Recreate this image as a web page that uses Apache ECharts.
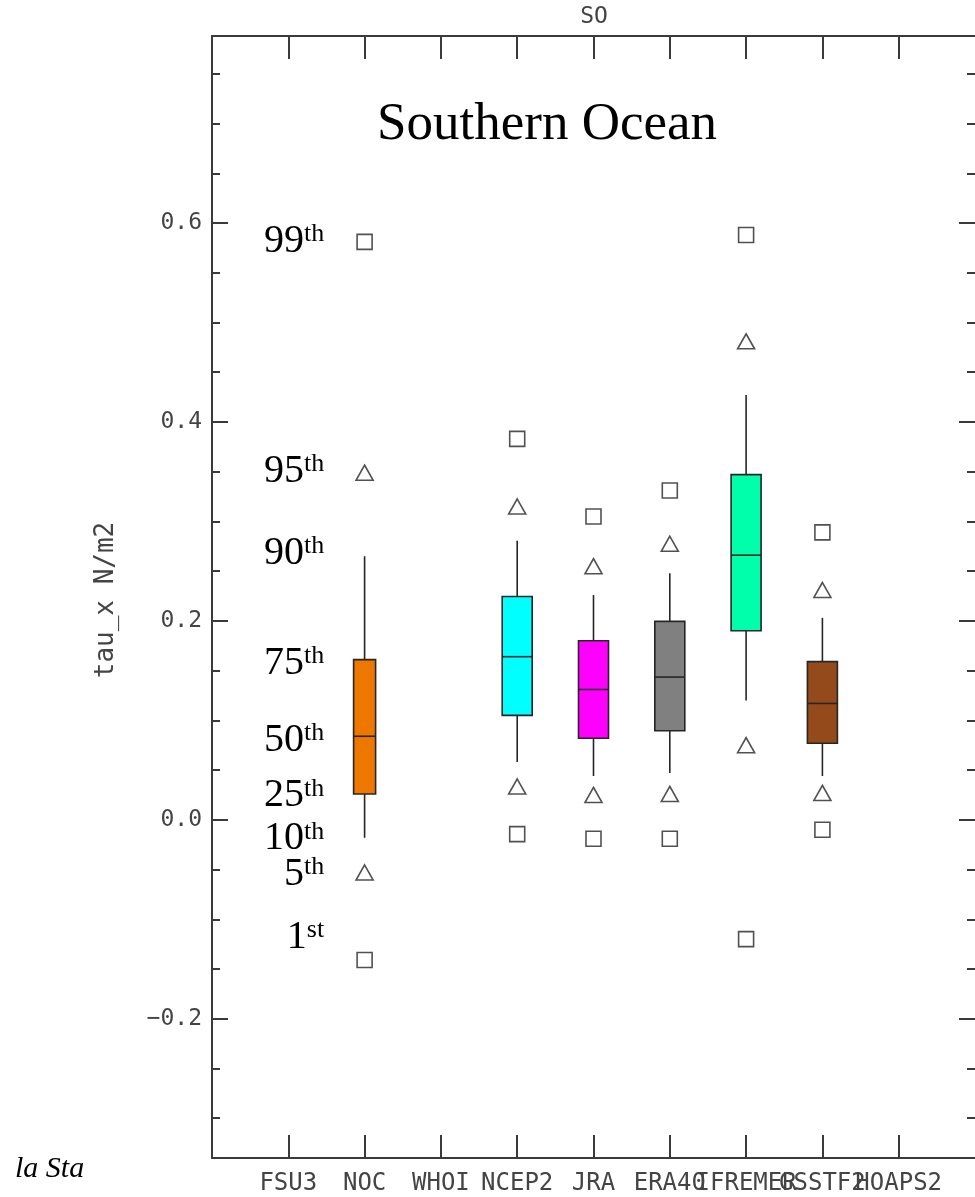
<!DOCTYPE html>
<html>
<head>
<meta charset="utf-8">
<script src="https://cdn.jsdelivr.net/npm/echarts@6/dist/echarts.min.js"></script>
<style>
html,body{margin:0;padding:0;background:#fff;}
#chart{width:975px;height:1197px;}
</style>
</head>
<body>
<div id="chart"></div>
<script>
// ---------- data ----------
const categories = ['FSU3','NOC','WHOI','NCEP2','JRA','ERA40','IFREMER','GSSTF2','HOAPS2'];
const p1  = [null, -0.141, null, -0.0144, -0.019, -0.019, -0.120, -0.010, null];
const p5  = [null, -0.053, null,  0.0335,  0.025,  0.026,  0.075,  0.027, null];
const p10 = [null, -0.018, null,  0.058,   0.044,  0.047,  0.120,  0.044, null];
const p25 = [null,  0.026, null,  0.105,   0.082,  0.0895, 0.190,  0.077, null];
const p50 = [null,  0.084, null,  0.164,   0.131,  0.1435, 0.266,  0.117, null];
const p75 = [null,  0.161, null,  0.2245,  0.180,  0.1995, 0.347,  0.159, null];
const p90 = [null,  0.265, null,  0.2805,  0.226,  0.248,  0.427,  0.203, null];
const p95 = [null,  0.349, null,  0.315,   0.255,  0.2775, 0.481,  0.231, null];
const p99 = [null,  0.581, null,  0.383,   0.305,  0.331,  0.588,  0.289, null];

const pctLabels = ['99','95','90','75','50','25','10','5','1'];
const pctSuffix = ['th','th','th','th','th','th','th','th','st'];
const pctLabelY = [0.5817, 0.350, 0.268, 0.157, 0.080, 0.024, -0.019, -0.055, -0.118];
const pctLabelX = 1.47;

const yMajorTicks = [-0.2, 0.0, 0.2, 0.4, 0.6];
const yMinorTicks = [-0.3,-0.25,-0.15,-0.1,-0.05,0.05,0.1,0.15,0.25,0.3,0.35,0.45,0.5,0.55,0.65,0.7,0.75];
const xTicks = [1,2,3,4,5,6,7,8,9];
const xLabelsOdd = [1,3,5,7,9];
const xLabelsEven = [2,4,6,8];
const yMin = -0.34, yMax = 0.788;
const xMin = 0, xMax = 10;

// ---------- styles ----------
const boxColors = {NOC:'#EE7700', NCEP2:'#00FFFF', JRA:'#FF00FF', ERA40:'#808080', IFREMER:'#00FFAA', GSSTF2:'#944A1A'};
const boxWidths = {NOC:22};
const defaultBoxWidth = 30;
const lineCol = '#262626';
const axisCol = '#3a3a3a';
const tickFont = 'DejaVu Sans Mono';

const chart = echarts.init(document.getElementById('chart'), null, {renderer:'canvas'});

function idxData(arr){
  return categories.map((c,i)=> arr[i]==null ? null : [i+1, arr[i]]).filter(Boolean);
}
const boxData = categories.map((c,i)=> p50[i]==null ? null : [i+1, p10[i], p25[i], p50[i], p75[i], p90[i]]).filter(Boolean);

function renderBox(params, api){
  const xi = api.value(0);
  const name = categories[xi-1];
  const x = api.coord([xi, 0])[0];
  const y10 = api.coord([xi, api.value(1)])[1];
  const y25 = api.coord([xi, api.value(2)])[1];
  const y50 = api.coord([xi, api.value(3)])[1];
  const y75 = api.coord([xi, api.value(4)])[1];
  const y90 = api.coord([xi, api.value(5)])[1];
  const w = boxWidths[name] || defaultBoxWidth;
  return {
    type:'group',
    children:[
      {type:'line', shape:{x1:x, y1:y90, x2:x, y2:y10}, style:{stroke:lineCol, lineWidth:1.6}},
      {type:'rect', shape:{x:x-w/2, y:y75, width:w, height:y25-y75}, style:{fill:boxColors[name], stroke:lineCol, lineWidth:1.6}},
      {type:'line', shape:{x1:x-w/2, y1:y50, x2:x+w/2, y2:y50}, style:{stroke:lineCol, lineWidth:1.6}}
    ]
  };
}

function renderPct(params, api){
  const p = api.coord([api.value(0), api.value(1)]);
  const i = params.dataIndex;
  return {
    type:'text', x:p[0], y:p[1],
    style:{
      text:'{d|' + pctLabels[i] + '}{s|' + pctSuffix[i] + '}',
      align:'right', verticalAlign:'middle', fill:'#000',
      rich:{
        d:{fontFamily:'Liberation Serif', fontSize:40, lineHeight:40, fill:'#000'},
        s:{fontFamily:'Liberation Serif', fontSize:26, lineHeight:26, fill:'#000', verticalAlign:'top'}
      }
    }
  };
}

const markerStyle = {color:'#fff', borderColor:lineCol, borderWidth:1.6};

function yAxisCfg(pos, ticks, len, showLine, showLabel){
  return {
    type:'value', min:yMin, max:yMax, position:pos,
    splitLine:{show:false},
    axisLine:{show:showLine, onZero:false, lineStyle:{color:axisCol, width:2}},
    axisTick:{show:true, inside:true, length:len, customValues:ticks, lineStyle:{color:axisCol, width:2}},
    axisLabel:{show:showLabel, customValues:ticks, margin:10, hideOverlap:false, fontFamily:tickFont, fontSize:23, color:'#444',
      formatter:v => (Math.abs(v)<1e-9 ? '0.0' : (v<0?'\u2212':'') + Math.abs(v).toFixed(1))}
  };
}

function xLabelAxis(vals){
  return {type:'value', min:xMin, max:xMax, position:'bottom', splitLine:{show:false},
    axisLine:{show:false, onZero:false}, axisTick:{show:false},
    axisLabel:{customValues:vals, margin:14, hideOverlap:false, fontFamily:tickFont, fontSize:24, color:'#444',
      formatter:v => categories[Math.round(v)-1] || ''}};
}

const option = {
  animation:false,
  backgroundColor:'#fff',
  grid:{left:212, top:36, width:766, height:1122, containLabel:false},
  xAxis:[
    {type:'value', min:xMin, max:xMax, position:'bottom', splitLine:{show:false},
      axisLine:{onZero:false, lineStyle:{color:axisCol, width:2}},
      axisTick:{inside:true, length:23, customValues:xTicks, lineStyle:{color:axisCol, width:2}},
      axisLabel:{show:false}},
    {type:'value', min:xMin, max:xMax, position:'top', splitLine:{show:false},
      axisLine:{onZero:false, lineStyle:{color:axisCol, width:2}},
      axisTick:{inside:true, length:23, customValues:xTicks, lineStyle:{color:axisCol, width:2}},
      axisLabel:{show:false}},
    xLabelAxis(xLabelsOdd),
    xLabelAxis(xLabelsEven)
  ],
  yAxis:[
    yAxisCfg('left', yMajorTicks, 16, true, true),
    yAxisCfg('left', yMinorTicks, 8, false, false),
    yAxisCfg('right', yMajorTicks, 16, false, false),
    yAxisCfg('right', yMinorTicks, 8, false, false)
  ],
  graphic:[
    {type:'text', x:594, y:17, style:{text:'SO', fontFamily:tickFont, fontSize:23, fill:'#444', textAlign:'center', textVerticalAlign:'middle'}},
    {type:'text', x:547, y:125, style:{text:'Southern Ocean', fontFamily:'Liberation Serif', fontSize:53, fill:'#000', textAlign:'center', textVerticalAlign:'middle'}},
    {type:'text', x:106, y:600, rotation:Math.PI/2, style:{text:'tau_x N/m2', fontFamily:tickFont, fontSize:26, fill:'#444', textAlign:'center', textVerticalAlign:'middle'}},
    {type:'text', x:15, y:1169, style:{text:'la Sta', fontFamily:'Liberation Serif', fontStyle:'italic', fontSize:30, fill:'#000', textAlign:'left', textVerticalAlign:'middle'}}
  ],
  series:[
    {type:'custom', name:'box', xAxisIndex:0, yAxisIndex:0, renderItem:renderBox, data:boxData, clip:false, z:3},
    {type:'scatter', name:'p99', data:idxData(p99), symbol:'rect', symbolSize:15, itemStyle:markerStyle, z:4},
    {type:'scatter', name:'p1', data:idxData(p1), symbol:'rect', symbolSize:15, itemStyle:markerStyle, z:4},
    {type:'scatter', name:'p95', data:idxData(p95), symbol:'triangle', symbolSize:[17,15], itemStyle:markerStyle, z:4},
    {type:'scatter', name:'p5', data:idxData(p5), symbol:'triangle', symbolSize:[17,15], itemStyle:markerStyle, z:4},
    {type:'custom', name:'pctLabels', xAxisIndex:0, yAxisIndex:0, renderItem:renderPct,
      data:pctLabelY.map(v=>[pctLabelX, v]), clip:false, silent:true, z:5}
  ]
};
chart.setOption(option);
</script>
</body>
</html>
